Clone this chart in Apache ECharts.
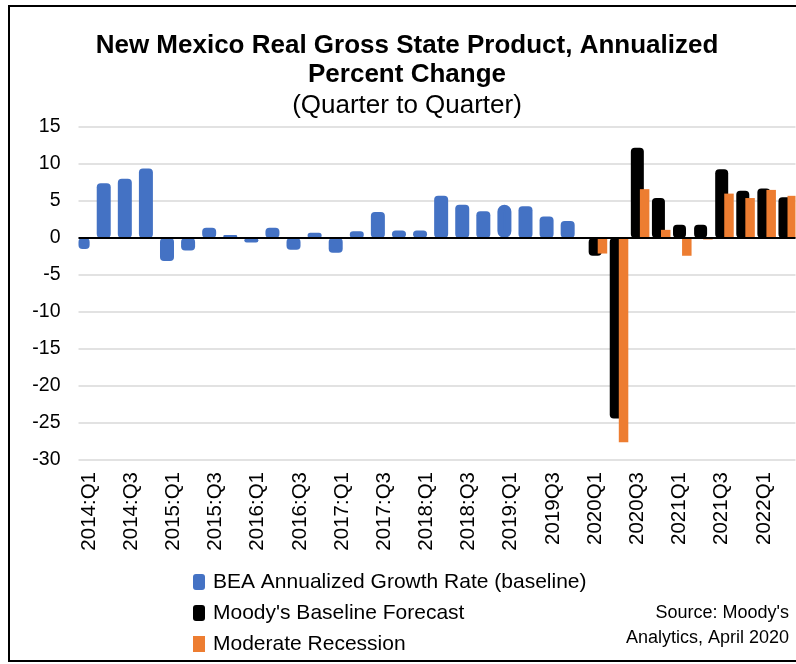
<!DOCTYPE html>
<html>
<head>
<meta charset="utf-8">
<script src="https://cdn.jsdelivr.net/npm/echarts@6/dist/echarts.min.js"></script>
<style>
  html, body { margin: 0; padding: 0; background: #fff; }
  #chart { width: 796px; height: 664px; }
</style>
</head>
<body>
<div id="chart"></div>
<script>
// quarters shown on the x axis (every other one gets a label)
var quarters = [
  '2014:Q1', '2014:Q2', '2014:Q3', '2014:Q4',
  '2015:Q1', '2015:Q2', '2015:Q3', '2015:Q4',
  '2016:Q1', '2016:Q2', '2016:Q3', '2016:Q4',
  '2017:Q1', '2017:Q2', '2017:Q3', '2017:Q4',
  '2018:Q1', '2018:Q2', '2018:Q3', '2018:Q4',
  '2019:Q1', '2019:Q2', '2019Q3', '2019Q4',
  '2020Q1', '2020Q2', '2020Q3', '2020Q4',
  '2021Q1', '2021Q2', '2021Q3', '2021Q4',
  '2022Q1', '2022Q2'
];

// BEA history (blue)
var beaGrowth = [
  -1.5, 7.4, 8.0, 9.4, -3.1, -1.7, 1.4, 0.4,
  -0.6, 1.4, -1.6, 0.7, -2.0, 0.9, 3.5, 1.0,
  1.0, 5.7, 4.5, 3.6, 4.5, 4.3, 2.9, 2.3,
  null, null, null, null, null, null, null, null, null, null
];

// Moody's baseline forecast (black)
var baselineForecast = [
  null, null, null, null, null, null, null, null,
  null, null, null, null, null, null, null, null,
  null, null, null, null, null, null, null, null,
  -2.4, -24.4, 12.2, 5.4, 1.8, 1.8, 9.3, 6.4, 6.7, 5.5
];

// moderate recession scenario (orange)
var moderateRecession = [
  null, null, null, null, null, null, null, null,
  null, null, null, null, null, null, null, null,
  null, null, null, null, null, null, null, null,
  -2.1, -27.6, 6.6, 1.1, -2.4, -0.2, 6.0, 5.4, 6.5, 5.7
];

var yTicks = { min: -30, max: 15, step: 5 };

var BLUE = '#4472C4', BLACK = '#000000', ORANGE = '#ED7D31';
var FONT = 'Liberation Sans, Arial, sans-serif';

// 2019:Q1 point has a heavy outline in the original
var beaData = beaGrowth.map(function (v, i) {
  if (i === 20) {
    return { value: v, itemStyle: { borderColor: BLUE, borderWidth: 6 } };
  }
  return v;
});

var myChart = echarts.init(document.getElementById('chart'), null, { renderer: 'canvas' });

var catAxis = function (show) {
  return {
    type: 'category',
    data: quarters,
    show: show,
    axisLine: { show: false },
    axisTick: { show: false },
    axisLabel: {
      interval: 1,
      rotate: 90,
      margin: 12,
      fontSize: 20.5,
      color: '#000',
      fontFamily: FONT
    }
  };
};

var option = {
  animation: false,
  backgroundColor: '#fff',
  textStyle: { fontFamily: FONT },
  title: {
    text: 'New Mexico Real Gross State Product, Annualized\nPercent Change',
    subtext: '(Quarter to Quarter)',
    left: 402,
    top: 26,
    textAlign: 'center',
    itemGap: 2,
    textStyle: { fontSize: 26, fontWeight: 'bold', color: '#000', lineHeight: 29 },
    subtextStyle: { fontSize: 26, color: '#000', lineHeight: 29 }
  },
  legend: {
    orient: 'vertical',
    left: 188,
    top: 566,
    itemWidth: 12,
    itemHeight: 16,
    itemGap: 9,
    textStyle: { fontSize: 21, color: '#000', lineHeight: 22, padding: [0, 0, 0, 3] },
    data: [
      { name: 'BEA Annualized Growth Rate (baseline)', icon: 'roundRect' },
      { name: "Moody's Baseline Forecast", icon: 'roundRect' },
      { name: 'Moderate Recession', icon: 'rect' }
    ]
  },
  grid: { left: 78.5, right: 0.5, top: 127, bottom: 204 },
  xAxis: [catAxis(true), catAxis(false), catAxis(false)],
  yAxis: {
    type: 'value',
    min: yTicks.min,
    max: yTicks.max,
    interval: yTicks.step,
    axisLine: { show: false },
    axisTick: { show: false },
    axisLabel: { fontSize: 19.5, color: '#000', margin: 18 },
    splitLine: { lineStyle: { color: '#d9d9d9', width: 1.5 } }
  },
  series: [
    {
      name: 'BEA Annualized Growth Rate (baseline)',
      type: 'bar', xAxisIndex: 0, barWidth: 14, barGap: 0,
      itemStyle: { color: BLUE, borderRadius: 4 },
      data: beaData
    },
    // empty spacer so the blue bars sit left of the category centre
    { name: 'pad1', type: 'bar', xAxisIndex: 0, barWidth: 12.8, barGap: 0, data: [] },
    {
      name: "Moody's Baseline Forecast",
      type: 'bar', xAxisIndex: 1, barWidth: 13, barGap: 0,
      itemStyle: { color: BLACK, borderRadius: 4 },
      data: baselineForecast
    },
    // spacer pushing the orange bars right
    { name: 'pad2', type: 'bar', xAxisIndex: 2, barWidth: 14.6, barGap: 0, data: [] },
    {
      name: 'Moderate Recession',
      type: 'bar', xAxisIndex: 2, barWidth: 9.5, barGap: 0,
      itemStyle: { color: ORANGE },
      data: moderateRecession,
      markLine: {
        silent: true,
        symbol: ['none', 'none'],
        label: { show: false },
        lineStyle: { color: '#000', width: 2, type: 'solid' },
        data: [{ yAxis: 0 }]
      }
    }
  ],
  graphic: [
    {
      type: 'rect',
      shape: { x: 9, y: 6, width: 800, height: 655 },
      style: { fill: 'none', stroke: '#000', lineWidth: 2 },
      z: 100
    },
    {
      type: 'text',
      x: 789,
      y: 601,
      style: {
        text: "Source: Moody's\nAnalytics, April 2020",
        fontSize: 18,
        lineHeight: 25,
        fill: '#000',
        align: 'right',
        verticalAlign: 'top',
        fontFamily: FONT
      }
    }
  ]
};

myChart.setOption(option);

window.addEventListener('resize', function () {
  myChart.resize();
});
</script>
</body>
</html>
